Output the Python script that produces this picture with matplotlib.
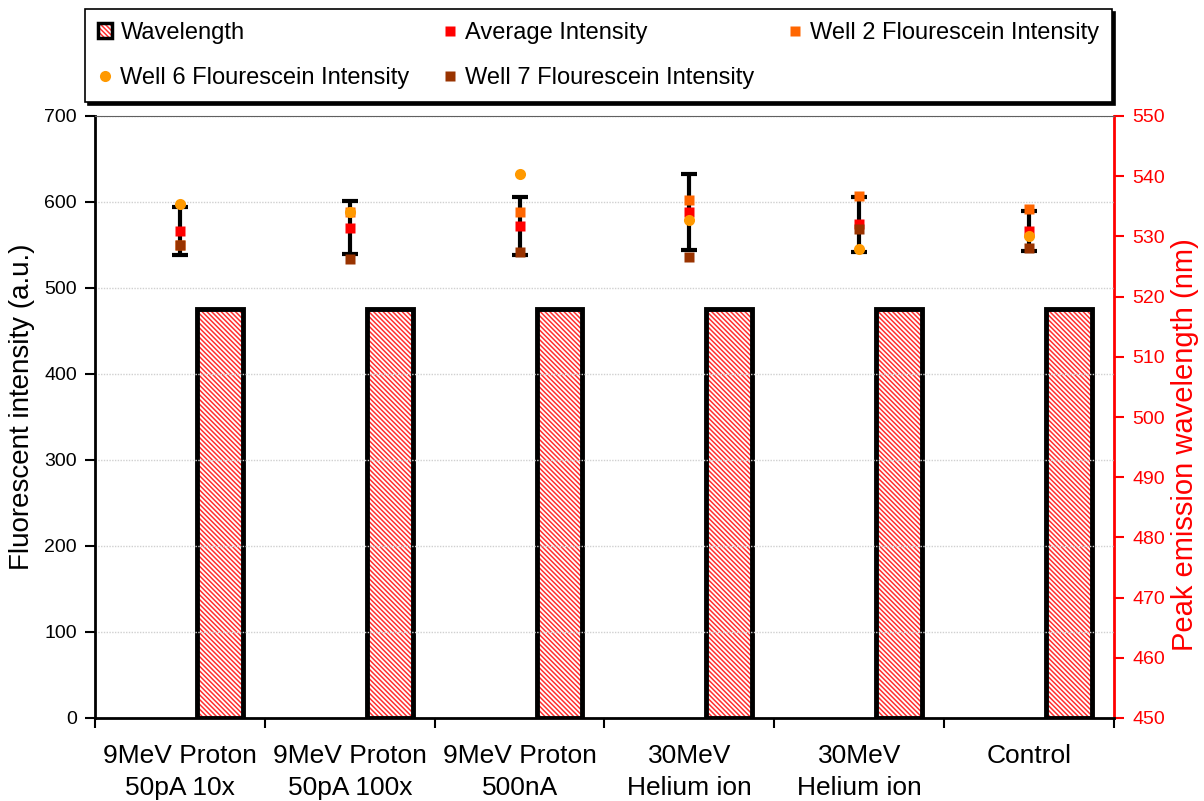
import matplotlib
matplotlib.use("Agg")
import matplotlib.pyplot as plt
from matplotlib.lines import Line2D
from matplotlib.patches import Patch
import numpy as np

plt.rcParams['font.family'] = ['Liberation Sans', 'DejaVu Sans']
plt.rcParams['hatch.linewidth'] = 1.1

categories = ["9MeV Proton\n50pA 10x", "9MeV Proton\n50pA 100x", "9MeV Proton\n500nA",
              "30MeV\nHelium ion", "30MeV\nHelium ion", "Control"]
wavelength = [518, 518, 518, 518, 518, 518]
avg_intensity = [566, 570, 572, 588, 574, 566]
avg_error = [28, 31, 34, 44, 32, 23]
well2 = [550, 588, 588, 602, 607, 592]
well6 = [598, 588, 632, 579, 545, 560]
well7 = [550, 534, 542, 536, 569, 547]

x = np.arange(len(categories))
HATCH = '\\\\\\\\\\\\\\'
BAR_RED = '#ff3030'

fig = plt.figure(figsize=(12.04, 8.01), dpi=100)
ax = fig.add_axes([95/1204, 1-718/801, (1114-95)/1204, (718-116)/801])
ax2 = ax.twinx()

# Wavelength bars on the secondary axis (hatched fill, then heavy black outline)
bar_off, bar_w = 0.235, 0.27
ax2.bar(x + bar_off, np.array(wavelength) - 450, bottom=450, width=bar_w,
        facecolor='white', edgecolor=BAR_RED, hatch=HATCH, linewidth=0, zorder=2)
ax2.bar(x + bar_off, np.array(wavelength) - 450, bottom=450, width=bar_w,
        fill=False, edgecolor='black', linewidth=3.5, zorder=3)

# Intensity markers on the primary axis, kept above the bars
ax.set_zorder(ax2.get_zorder() + 1)
ax.patch.set_visible(False)
ax.errorbar(x, avg_intensity, yerr=avg_error, fmt='none', ecolor='black',
            elinewidth=3, capsize=6, capthick=3, zorder=3)
ms = 7.5
ax.plot(x, avg_intensity, 's', color='#ff0000', ms=ms, mec='none', zorder=4)
ax.plot(x, well2, 's', color='#ff6600', ms=ms, mec='none', zorder=5)
ax.plot(x, well6, 'o', color='#ff9900', ms=ms+0.5, mec='none', zorder=6)
ax.plot(x, well7, 's', color='#993300', ms=ms, mec='none', zorder=7)

# Primary axis styling
ax.set_xlim(-0.5, len(categories) - 0.5)
ax.set_ylim(0, 700)
ax.set_yticks(np.arange(0, 701, 100))
ax.yaxis.grid(True, color='#d0d0d0', linestyle=(0, (1, 1)), linewidth=1)
ax.set_axisbelow(True)
ax.tick_params(axis='y', direction='out', length=7, width=1.5, labelsize=14, pad=6, colors='black')
ax.set_xticks(x)
ax.set_xticklabels(categories, fontsize=19, linespacing=1.42)
ax.tick_params(axis='x', length=0, pad=19)
ax.set_xticks(np.arange(-0.5, len(categories), 1), minor=True)
ax.tick_params(axis='x', which='minor', direction='out', length=7, width=1.5)
for side in ('left', 'bottom'):
    ax.spines[side].set_linewidth(2)
ax.spines['top'].set_linewidth(0.8)
ax.spines['top'].set_color('#606060')
ax.spines['right'].set_visible(False)

# Secondary axis styling
ax2.set_ylim(450, 550)
ax2.set_yticks(np.arange(450, 551, 10))
ax2.tick_params(axis='y', direction='out', length=7, width=1.5, colors='#ff0000',
                labelsize=14, pad=6)
for side in ('left', 'top', 'bottom'):
    ax2.spines[side].set_visible(False)
ax2.spines['right'].set_color('#ff0000')
ax2.spines['right'].set_linewidth(2)

# Axis titles
fig.text(22/1204, 1-407/801, "Fluorescent intensity (a.u.)", fontsize=20,
         rotation=90, ha='center', va='center')
fig.text(1185/1204, 1-445/801, "Peak emission wavelength (nm)", fontsize=21,
         color='#ff0000', rotation=90, ha='center', va='center')

# Legend above the plot area
def marker(m, c, size=ms):
    return Line2D([], [], marker=m, color=c, ls='none', ms=size, mec='none')

wave_handle = (Patch(facecolor='white', edgecolor=BAR_RED, hatch=HATCH, linewidth=0),
               Patch(fill=False, edgecolor='black', linewidth=2.5))
handles = [wave_handle, marker('o', '#ff9900', ms + 0.5), marker('s', '#ff0000'),
           marker('s', '#993300'), marker('s', '#ff6600')]
labels = ["Wavelength", "Well 6 Flourescein Intensity", "Average Intensity",
          "Well 7 Flourescein Intensity", "Well 2 Flourescein Intensity"]
leg = fig.legend(handles, labels, ncol=3, mode='expand', loc='upper left',
                 bbox_to_anchor=(85/1204, 1-10/801, (1112-85)/1204, 0.001),
                 bbox_transform=fig.transFigure, borderaxespad=0, fontsize=17,
                 frameon=True, fancybox=False, edgecolor='black',
                 handlelength=0.6, handleheight=0.6, handletextpad=0.35,
                 labelspacing=0.96, borderpad=0.55,
                 shadow={'color': 'black', 'alpha': 1})
leg.get_frame().set_linewidth(1.2)

fig.savefig("out.png", dpi=100, facecolor='white')
